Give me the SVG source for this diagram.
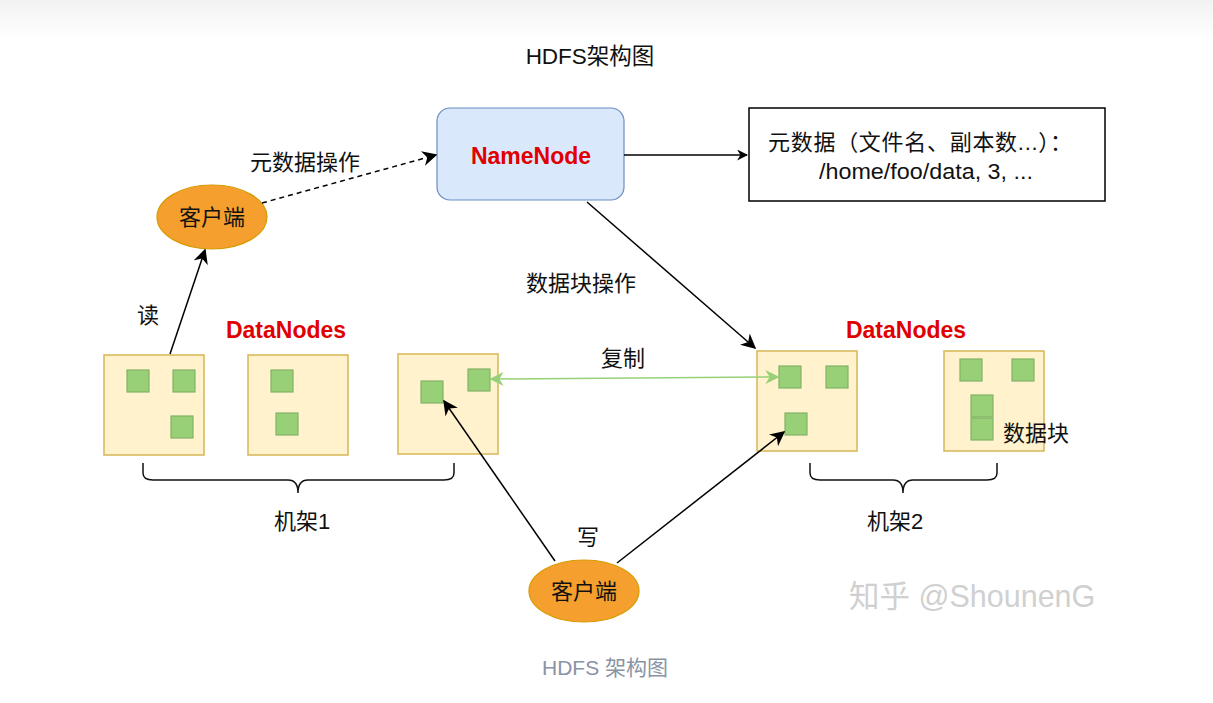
<svg xmlns="http://www.w3.org/2000/svg" width="1213" height="703" viewBox="0 0 1213 703">
<defs>
<linearGradient id="topg" x1="0" y1="0" x2="0" y2="1">
<stop offset="0" stop-color="#f2f2f2"/>
<stop offset="1" stop-color="#ffffff"/>
</linearGradient>
<marker id="ah" viewBox="0 0 10 10" refX="9" refY="5" markerWidth="11" markerHeight="11" markerUnits="userSpaceOnUse" orient="auto">
<path d="M0,0 L10,5 L0,10 L3,5 Z" fill="#000"/>
</marker>
<marker id="ahb" viewBox="0 0 10 10" refX="9" refY="5" markerWidth="15" markerHeight="15" markerUnits="userSpaceOnUse" orient="auto">
<path d="M0,0 L10,5 L0,10 L3,5 Z" fill="#000"/>
</marker>
<marker id="ag" viewBox="0 0 10 10" refX="9" refY="5" markerWidth="14" markerHeight="14" markerUnits="userSpaceOnUse" orient="auto-start-reverse">
<path d="M0,0 L10,5 L0,10 L3,5 Z" fill="#97d077"/>
</marker>
</defs>
<style>
text{font-family:"Liberation Sans","Noto Sans CJK SC",sans-serif;fill:#111;}
.dn{fill:#fff2cc;stroke:#d6b656;stroke-width:1.5;}
.blk{fill:#97d077;stroke:#82b366;stroke-width:1.2;}
.cl{fill:#f5a02e;stroke:#d79b00;stroke-width:1.2;}
.lbl{font-size:22px;}
.red{fill:#e00000;font-weight:bold;font-size:23px;}
.brace{fill:none;stroke:#111;stroke-width:1.5;}
</style>
<rect x="0" y="0" width="1213" height="40" fill="url(#topg)"/>
<text x="590" y="64" text-anchor="middle" style="font-size:22.5px">HDFS架构图</text>

<g id="namenode">
<rect x="437" y="108" width="187" height="92" rx="13" fill="#dae8fc" stroke="#6c8ebf" stroke-width="1.2"/>
<text x="531" y="164" text-anchor="middle" class="red">NameNode</text>
</g>

<g id="metadata">
<rect x="749" y="108" width="356" height="93" fill="#fff" stroke="#000" stroke-width="1.5"/>
<text x="768" y="150" class="lbl" textLength="304" lengthAdjust="spacing">元数据（文件名、副本数...）：</text>
<text x="819" y="179" class="lbl" textLength="214" lengthAdjust="spacingAndGlyphs">/home/foo/data, 3, ...</text>
</g>

<g id="client1">
<ellipse cx="212" cy="217" rx="55" ry="32" class="cl"/>
<text x="212" y="225" text-anchor="middle" class="lbl">客户端</text>
</g>

<text x="250" y="170" class="lbl">元数据操作</text>
<text x="137" y="323" class="lbl">读</text>
<text x="526" y="291" class="lbl">数据块操作</text>
<text x="623" y="366" text-anchor="middle" class="lbl">复制</text>
<text x="588" y="545" text-anchor="middle" class="lbl">写</text>

<text x="286" y="338" text-anchor="middle" class="red">DataNodes</text>
<text x="906" y="338" text-anchor="middle" class="red">DataNodes</text>

<g id="datanode1">
<rect x="104" y="355" width="100" height="100" class="dn"/>
<rect x="127" y="370" width="22" height="22" class="blk"/>
<rect x="173" y="370" width="22" height="22" class="blk"/>
<rect x="171" y="416" width="22" height="22" class="blk"/>
</g>
<g id="datanode2">
<rect x="248" y="355" width="100" height="100" class="dn"/>
<rect x="271" y="370" width="22" height="22" class="blk"/>
<rect x="276" y="413" width="22" height="22" class="blk"/>
</g>
<g id="datanode3">
<rect x="398" y="354" width="100" height="100" class="dn"/>
<rect x="421" y="381" width="22" height="22" class="blk"/>
<rect x="468" y="369" width="22" height="22" class="blk"/>
</g>
<g id="datanode4">
<rect x="757" y="351" width="100" height="100" class="dn"/>
<rect x="779" y="366" width="22" height="22" class="blk"/>
<rect x="826" y="366" width="22" height="22" class="blk"/>
<rect x="785" y="413" width="22" height="22" class="blk"/>
</g>
<g id="datanode5">
<rect x="944" y="351" width="100" height="100" class="dn"/>
<rect x="960" y="359" width="22" height="22" class="blk"/>
<rect x="1012" y="359" width="22" height="22" class="blk"/>
<rect x="971" y="395" width="22" height="22" class="blk"/>
<rect x="971" y="418" width="22" height="22" class="blk"/>
</g>
<text x="1003" y="441" class="lbl">数据块</text>

<g id="rack1">
<path class="brace" d="M143,463 V473 Q143,480 153,480 H288 Q298,480 298,493 Q298,480 308,480 H444 Q454,480 454,473 V463"/>
<text x="302" y="529" text-anchor="middle" class="lbl">机架1</text>
</g>
<g id="rack2">
<path class="brace" d="M810,463 V473 Q810,480 820,480 H893 Q903,480 903,493 Q903,480 913,480 H987 Q997,480 997,473 V463"/>
<text x="895" y="529" text-anchor="middle" class="lbl">机架2</text>
</g>

<g id="client2">
<ellipse cx="584" cy="591" rx="55" ry="31" class="cl"/>
<text x="584" y="599" text-anchor="middle" class="lbl">客户端</text>
</g>

<g id="connectors">
<line x1="624" y1="155" x2="747" y2="155" stroke="#000" stroke-width="1.5" marker-end="url(#ah)"/>
<line x1="262" y1="203" x2="436" y2="155" stroke="#000" stroke-width="1.5" stroke-dasharray="5,4" marker-end="url(#ahb)"/>
<line x1="170" y1="354" x2="205" y2="250" stroke="#000" stroke-width="1.5" marker-end="url(#ahb)"/>
<line x1="587" y1="202" x2="755" y2="348" stroke="#000" stroke-width="1.5" marker-end="url(#ahb)"/>
<line x1="491" y1="379" x2="778" y2="377" stroke="#97d077" stroke-width="1.5" marker-start="url(#ag)" marker-end="url(#ag)"/>
<line x1="555" y1="561" x2="444" y2="401" stroke="#000" stroke-width="1.5" marker-end="url(#ahb)"/>
<line x1="617" y1="563" x2="784" y2="432" stroke="#000" stroke-width="1.5" marker-end="url(#ahb)"/>
</g>

<text x="849" y="607" style="font-size:30.5px;fill:#d0d0d0">知乎 @ShounenG</text>
<text x="605" y="675" text-anchor="middle" style="font-size:21px;fill:#8a93a3">HDFS 架构图</text>
</svg>
